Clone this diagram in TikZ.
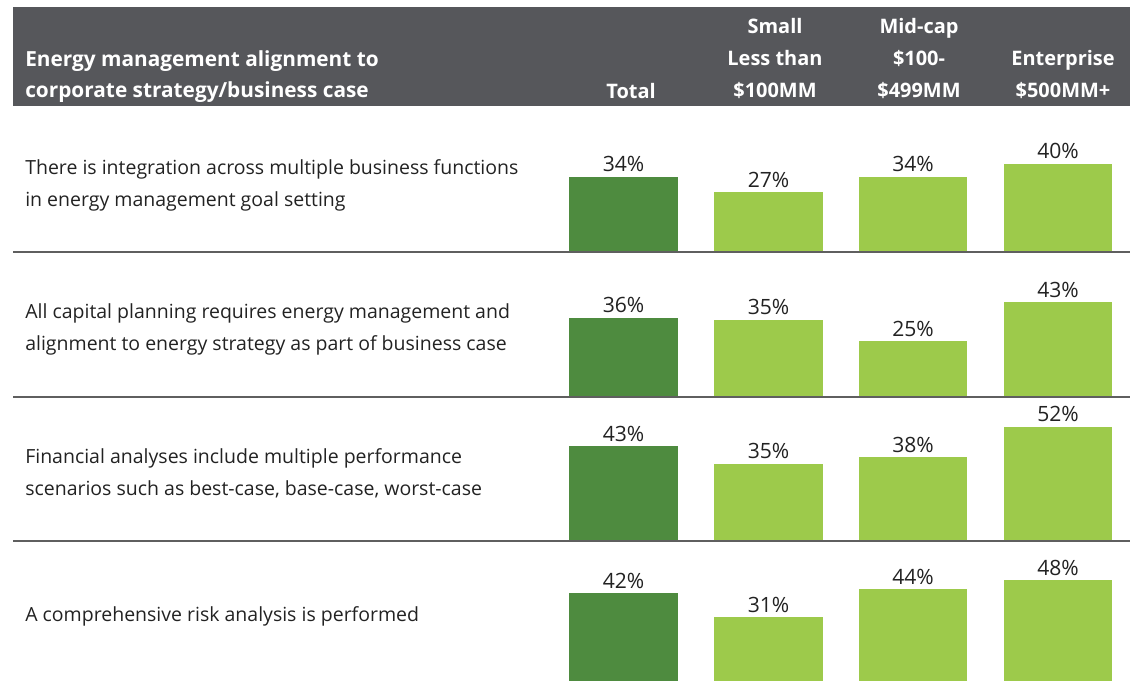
\documentclass[tikz,border=0pt]{standalone}
\usepackage{fontspec}
\setmainfont{Open Sans}
\usetikzlibrary{positioning}
\definecolor{headgray}{HTML}{56575B}
\definecolor{darkgreen}{HTML}{4E8B3F}
\definecolor{lightgreen}{HTML}{9DCA4B}
\definecolor{rulegray}{HTML}{5F5F5F}
\definecolor{textgray}{HTML}{222222}
\begin{document}
\begin{tikzpicture}[x=0.025cm,y=-0.025cm,
    barbox/.style={anchor=south, inner sep=0, minimum width=77.2pt, minimum height=#1*1.545pt},
    totbar/.style={barbox=#1, fill=darkgreen},
    segbar/.style={barbox=#1, fill=lightgreen},
    val/.style={inner sep=0, text=textgray, font=\fontsize{15}{18}\selectfont},
    rowtext/.style={anchor=west, inner sep=0, align=left, text=textgray, font=\fontsize{13.86}{22.7}\selectfont},
    headtext/.style={inner sep=0, align=center, text=white, font=\bfseries\fontsize{14.2}{22.6}\selectfont}]

      \clip (0,0) rectangle (1142,681);
      \fill[headgray] (13,7) rectangle (1130,106);

      \node[headtext, anchor=south west, align=left, font=\bfseries\fontsize{14.8}{22}\selectfont] (title) at (25,103) {Energy management alignment to\\corporate strategy/business case};
      \node[headtext, anchor=south] (htot) at (631,99) {Total};
      \node[headtext, anchor=south] (hsmall) at (775,99) {Small\\Less than\\\$100MM};
      \node[headtext, anchor=south] (hmid) at (919,99) {Mid-cap\\\$100-\\\$499MM};
      \node[headtext, anchor=south] (hent) at (1063,99) {\\Enterprise\\\$500MM+};

      \begin{scope}[rulegray, line width=1.4pt]
        \draw (13,252) -- (1130,252);
        \draw (13,397) -- (1130,397);
        \draw (13,541) -- (1130,541);
      \end{scope}

      \node[rowtext] (r1) at (25,185.5) {There is integration across multiple business functions\\in energy management goal setting};
      \node[rowtext] (r2) at (25,329.5) {All capital planning requires energy management and\\alignment to energy strategy as part of business case};
      \node[rowtext] (r3) at (25,473.5) {Financial analyses include multiple performance\\scenarios such as best-case, base-case, worst-case};
      \node[rowtext] (r4) at (25,616.5) {A comprehensive risk analysis is performed};

      \node[totbar=34] (t1) at (623.5,251) {};
      \node[segbar=27] (s1) at (768.5,251) {};
      \node[segbar=34] (m1) at (913,251) {};
      \node[segbar=40] (e1) at (1058,251) {};

      \node[totbar=36] (t2) at (623.5,396) {};
      \node[segbar=35] (s2) at (768.5,396) {};
      \node[segbar=25] (m2) at (913,396) {};
      \node[segbar=43] (e2) at (1058,396) {};

      \node[totbar=43] (t3) at (623.5,540) {};
      \node[segbar=35] (s3) at (768.5,540) {};
      \node[segbar=38] (m3) at (913,540) {};
      \node[segbar=52] (e3) at (1058,540) {};

      \node[totbar=42] (t4) at (623.5,685) {};
      \node[segbar=31] (s4) at (768.5,685) {};
      \node[segbar=44] (m4) at (913,685) {};
      \node[segbar=48] (e4) at (1058,685) {};

      \begin{scope}[every node/.style={val}]
        \node[above=3pt of t1] (vt1) {34\%};
        \node[above=3pt of s1] (vs1) {27\%};
        \node[above=3pt of m1] (vm1) {34\%};
        \node[above=3pt of e1] (ve1) {40\%};
        \node[above=3pt of t2] (vt2) {36\%};
        \node[above=3pt of s2] (vs2) {35\%};
        \node[above=3pt of m2] (vm2) {25\%};
        \node[above=3pt of e2] (ve2) {43\%};
        \node[above=3pt of t3] (vt3) {43\%};
        \node[above=3pt of s3] (vs3) {35\%};
        \node[above=3pt of m3] (vm3) {38\%};
        \node[above=3pt of e3] (ve3) {52\%};
        \node[above=3pt of t4] (vt4) {42\%};
        \node[above=3pt of s4] (vs4) {31\%};
        \node[above=3pt of m4] (vm4) {44\%};
        \node[above=3pt of e4] (ve4) {48\%};
      \end{scope}

    \end{tikzpicture}
\end{document}
